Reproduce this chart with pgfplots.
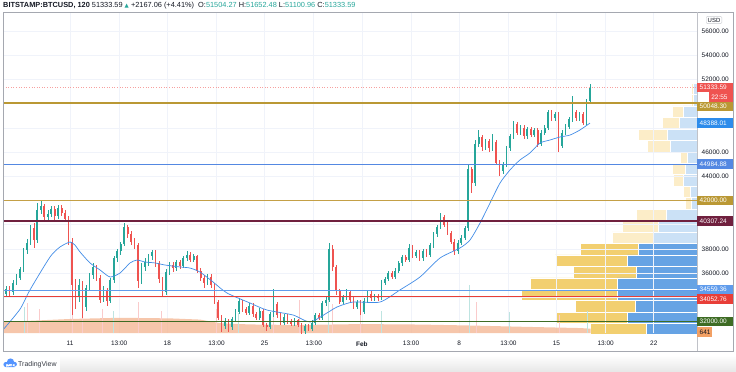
\documentclass[border=0pt]{standalone}
\usepackage{pgfplots}
\usepackage{pgfplotstable}
\pgfplotsset{compat=1.18}
\usepackage{fontspec}
\setmainfont{Liberation Sans}
\newfontfamily\symfont{DejaVu Sans}
\definecolor{tvgreen}{RGB}{38,166,154}
\definecolor{tvred}{RGB}{239,83,80}
\definecolor{gridc}{RGB}{240,243,250}
\definecolor{framec}{RGB}{165,168,176}
\definecolor{txt}{RGB}{19,23,34}
\definecolor{mablue}{RGB}{66,140,230}
\definecolor{lgold}{RGB}{186,152,52}
\definecolor{lgold2}{RGB}{196,160,70}
\definecolor{lblue}{RGB}{84,136,226}
\definecolor{lblue2}{RGB}{96,156,236}
\definecolor{lmaroon}{RGB}{112,32,62}
\definecolor{lred}{RGB}{232,62,56}
\definecolor{lgreen}{RGB}{62,108,36}
\definecolor{pyel}{RGB}{242,207,112}
\definecolor{pblue}{RGB}{102,163,228}
\definecolor{pyelL}{RGB}{252,237,200}
\definecolor{pblueL}{RGB}{203,225,246}
\definecolor{volc}{RGB}{244,184,150}
\definecolor{volo}{RGB}{242,160,100}
\definecolor{logoc}{RGB}{41,121,255}
\definecolor{mablab}{RGB}{45,140,235}

% up (close >= open) candles: day from 11 Jan, open, high, low, close
\pgfplotstableread{
x o h l c
-4.85 34000 34600 33700 34300
-4.60 34300 34900 34000 34700
-4.10 34400 35400 34200 35200
-3.85 35200 35900 35000 35600
-3.60 35600 36500 35400 36300
-3.35 36300 38100 36100 37900
-3.10 37900 38800 37600 38500
-2.85 38500 40000 38300 39700
-2.35 38700 41800 38500 41200
-2.10 41200 42000 40900 41500
-1.60 40600 41200 40300 40900
-1.35 40900 41500 40600 41300
-0.85 40700 41600 40500 41400
0.65 34000 35500 33600 35000
1.15 33200 35000 32900 34800
1.40 34800 36000 34500 35800
1.65 35800 36800 35500 36500
2.40 33800 34900 33600 34600
2.90 33700 35600 33500 35400
3.15 35400 37400 35200 37200
3.40 37200 38000 36900 37800
3.65 37800 38600 37500 38400
3.90 38400 40100 38200 39800
5.15 35300 36800 35100 36500
5.40 36500 37200 36200 36900
5.65 36900 37600 36600 37400
5.90 37400 37900 37100 37700
6.90 34400 36300 34200 36100
7.15 36100 36900 35800 36700
7.65 36400 37100 36200 36900
8.15 36600 37400 36400 37200
8.40 37200 37800 37000 37500
8.90 37100 37600 36900 37400
9.90 35200 35900 35000 35700
11.15 31600 32300 31400 32000
11.65 31500 32400 31300 32200
11.90 32200 33000 32000 32800
12.15 32800 33900 32600 33700
12.90 32700 33500 32500 33300
13.65 32300 33100 32100 32900
14.40 31500 32800 31400 32600
14.65 32600 34700 32400 33400
15.40 31900 32600 31700 32400
16.15 31800 32300 31600 32100
16.90 31200 31800 31000 31600
17.40 31400 32100 31200 31900
17.65 31900 32700 31700 32500
18.15 32300 33700 32100 33500
18.40 33500 34000 33300 33800
18.65 33800 38500 33600 38000
19.65 33600 34200 33400 34000
19.90 34000 34700 33800 34400
20.65 33200 33800 33000 33600
21.15 32800 33900 32600 33700
21.40 33700 34600 33500 34300
21.90 33900 34300 33700 34100
22.40 33900 35400 33800 35200
22.65 35200 35700 35000 35500
22.90 35500 36200 35300 36000
23.40 35700 36400 35500 36200
23.65 36200 37000 36000 36800
23.90 36800 37500 36600 37300
24.40 37100 38400 36900 38100
24.90 37400 37900 37200 37700
25.40 37200 38000 37000 37800
25.90 37500 38500 37300 38300
26.15 38300 39400 38100 39200
26.40 39200 40000 39000 39800
26.65 39800 41000 39600 40600
27.90 37800 38700 37600 38500
28.15 38500 39100 38300 38900
28.40 38900 39900 38700 39700
28.65 39700 45000 39500 44600
29.15 43400 47000 43200 46700
29.40 46700 47800 46400 47200
29.90 46400 47100 46200 46900
30.40 46300 47500 46100 46800
31.15 44400 45200 44200 45000
31.40 45000 46500 44800 46300
31.65 46300 47500 46100 47300
31.90 47300 48600 47100 48300
32.40 47600 48200 47400 48000
32.90 47300 48100 47100 47900
33.40 47400 48000 47200 47800
33.90 46700 47800 46500 47600
34.15 47600 48200 47400 48000
34.40 48000 49500 47800 49300
34.90 48800 49300 48600 49100
35.40 46500 47800 46300 47600
35.65 47600 48300 47400 48100
35.90 48100 48900 47900 48700
36.15 48700 50600 48500 49300
36.65 48800 49300 48600 49100
37.15 48400 50400 48200 50200
37.40 50200 51650 50000 51330
}\upc

% down candles
\pgfplotstableread{
x o h l c
-4.35 34700 34900 34100 34400
-2.60 39700 40100 38100 38700
-1.85 41500 41700 40300 40600
-1.10 41300 41500 40400 40700
-0.60 41400 41600 40700 41000
-0.35 41000 41200 40200 40500
-0.10 40500 40700 38300 38600
0.15 38600 38900 32500 35000
0.40 35000 35500 33000 34000
0.90 35000 35300 32300 33200
1.90 36500 36700 35300 35600
2.15 35600 35800 33500 33800
2.65 34600 34800 33300 33700
4.15 39800 40000 38900 39200
4.40 39200 39500 38300 38600
4.65 38600 38900 38000 38300
4.90 38300 38500 34800 35300
6.15 37700 37900 36500 36800
6.40 36800 37000 35200 35500
6.65 35500 35700 34000 34400
7.40 36700 36900 36100 36400
7.90 36900 37100 36300 36600
8.65 37500 37700 36900 37100
9.15 37400 37500 36000 36200
9.40 36200 36400 35300 35600
9.65 35600 35800 34800 35200
10.15 35700 35900 34800 35000
10.40 35000 35200 33400 33600
10.65 33600 33800 32100 32300
10.90 32300 32500 31100 31600
11.40 32000 32200 31100 31500
12.40 33700 33800 32800 33000
12.65 33000 33200 32500 32700
13.15 33300 33500 32400 32600
13.40 32600 32800 32100 32300
13.90 32900 33000 31500 31700
14.15 31700 31900 31200 31500
14.90 33400 33600 32300 32500
15.15 32500 32700 31700 31900
15.65 32400 32600 31800 32000
15.90 32000 32200 31600 31800
16.40 32100 32200 31500 31700
16.65 31700 31900 30900 31200
17.15 31600 31800 31200 31400
17.90 32500 32700 32100 32300
18.90 38000 38300 36200 36500
19.15 36500 36700 34200 34500
19.40 34500 34700 33400 33600
20.15 34400 34600 33600 33800
20.40 33800 34000 33000 33200
20.90 33600 33800 32500 32800
21.65 34300 34500 33700 33900
22.15 34100 34300 33700 33900
23.15 36000 36200 35500 35700
24.15 37300 37500 36900 37100
24.65 38100 38300 37200 37400
25.15 37700 37900 37000 37200
25.65 37800 38000 37300 37500
26.90 40600 40800 39800 40000
27.15 40000 40200 39100 39300
27.40 39300 39500 38400 38600
27.65 38600 38800 37500 37800
28.90 44600 44800 42600 43400
29.65 47200 47400 46100 46400
30.15 46900 47100 46000 46300
30.65 46800 47000 44900 45100
30.90 45100 45300 44000 44400
32.15 48300 48500 47400 47600
32.65 48000 48200 47100 47300
33.15 47900 48100 47200 47400
33.65 47800 48000 46400 46700
34.65 49300 49500 48600 48800
35.15 49100 49300 46000 46500
36.40 49300 49500 48600 48800
36.90 49100 49300 48200 48400
}\dnc

% volume profile rows: price centre, total length, down-part length
\pgfplotstableread{
p tot blu
31349 107 51
32295 142 70
33241 122 62
34188 176 80
35134 167 80
36080 124 61
37027 142 70
37973 117 59
}\profD
\pgfplotstableread{
p tot blu
38920 85 44
39866 75 39
40812 61 31
41759 12 6
42705 14 7
43651 24 14
44597 25 12
45544 17 10
46490 50 27
47437 59 30
48383 35 18
49329 25 14
50276 6 4
51222 6 4
}\profL

\tikzset{plab/.style={anchor=west, inner xsep=2.5bp, inner ysep=0pt, minimum height=9.6bp,
  text width=31bp, align=left, font=\fontsize{6.5}{7}\selectfont, text=white, fill=#1}}

\begin{document}
\begin{tikzpicture}[x=1bp,y=1bp]
\path[use as bounding box] (0,0) rectangle (736,371);
\shade[top color=white, bottom color=black!9] (60,0) rectangle (736,16);

% volume profile (drawn from the right edge)
\begin{axis}[at={(3bp,38bp)}, anchor=south west, scale only axis, width=694bp, height=320bp,
  x dir=reverse, xmin=0, xmax=694, ymin=31041, ymax=57488, hide axis]
\addplot[xbar, bar shift=0pt, bar width=946, fill=pyel, draw=white, line width=0.5bp] table[x=tot, y=p]{\profD};
\addplot[xbar, bar shift=0pt, bar width=946, fill=pblue, draw=white, line width=0.5bp] table[x=blu, y=p]{\profD};
\addplot[xbar, bar shift=0pt, bar width=946, fill=pyelL, draw=white, line width=0.5bp] table[x=tot, y=p]{\profL};
\addplot[xbar, bar shift=0pt, bar width=946, fill=pblueL, draw=white, line width=0.5bp] table[x=blu, y=p]{\profL};
\end{axis}

\begin{axis}[at={(3bp,38bp)}, anchor=south west, scale only axis, width=694bp, height=320bp,
  xmin=-4.82, xmax=45.11, ymin=31041, ymax=57488,
  axis line style={draw=none},
  xtick={0,3.54,7,10.54,14,17.54,21,24.54,28,31.54,35,38.54,42},
  xticklabels={11,13:00,18,13:00,25,13:00,\textbf{Feb},13:00,8,13:00,15,13:00,22},
  ytick={32000,34000,...,56000},
  yticklabels={,,36000.00,38000.00,,,44000.00,46000.00,,,52000.00,54000.00,56000.00},
  scaled y ticks=false, scaled x ticks=false,
  yticklabel pos=right,
  tick label style={font=\fontsize{6.5}{7}\selectfont, text=txt},
  y tick label style={xshift=1.2bp},
  x tick label style={yshift=-4.8bp},
  major tick length=0pt,
  grid=major, major grid style={draw=gridc, line width=0.6bp},
]
% volume backdrop
\addplot[fill=volc, fill opacity=0.8, draw=none] coordinates {
(-4.82,31950) (0,32200) (3.6,32300) (7.2,32250) (9.35,32150) (10.8,31850) (12.9,31750)
(16.5,31700) (20.9,31780) (25.2,31740) (28.8,31660) (32.4,31560) (36.7,31450) (37.45,31400)
(37.45,31041) (-4.82,31041)};
\addplot[ycomb, draw=tvred!30, line width=0.5bp] coordinates {
(-3.1,33500) (-2.2,33000) (0.15,34800) (0.9,33300) (2.3,33000) (4.9,33600) (6.6,32900)
(10.5,33000) (14.6,32800) (16.5,33800) (18.9,33400) (20.9,32800) (29.2,33600) (35.2,32500)};
\addplot[ycomb, draw=tvgreen!30, line width=0.5bp] coordinates {
(-3.3,33200) (3.1,32900) (12.1,32700) (18.6,34000) (22.4,32900) (28.7,35000) (31.6,32800) (37.2,32900)};
% candles
\addplot[draw=none, mark=none, error bars/.cd, y dir=both, y explicit, error mark=none,
  error bar style={draw=tvgreen, line width=0.5bp}]
  table[x=x, y expr={(\thisrow{h}+\thisrow{l})/2}, y error expr={(\thisrow{h}-\thisrow{l})/2}]{\upc};
\addplot[draw=none, mark=none, error bars/.cd, y dir=both, y explicit, error mark=none,
  error bar style={draw=tvgreen, line width=1.7bp}]
  table[x=x, y expr={(\thisrow{o}+\thisrow{c})/2}, y error expr={abs(\thisrow{c}-\thisrow{o})/2}]{\upc};
\addplot[draw=none, mark=none, error bars/.cd, y dir=both, y explicit, error mark=none,
  error bar style={draw=tvred, line width=0.5bp}]
  table[x=x, y expr={(\thisrow{h}+\thisrow{l})/2}, y error expr={(\thisrow{h}-\thisrow{l})/2}]{\dnc};
\addplot[draw=none, mark=none, error bars/.cd, y dir=both, y explicit, error mark=none,
  error bar style={draw=tvred, line width=1.7bp}]
  table[x=x, y expr={(\thisrow{o}+\thisrow{c})/2}, y error expr={abs(\thisrow{c}-\thisrow{o})/2}]{\dnc};
% moving average
\addplot[mablue, line width=0.7bp, smooth, tension=0.4] coordinates {
(-4.82,31300) (-3.6,33000) (-2.88,34600) (-1.44,37320) (-0.72,38150) (0,38560) (0.36,38300)
(0.72,37740) (1.44,36830) (2.16,36250) (2.88,35670) (3.6,36000) (4.32,36830) (4.82,37070)
(5.4,36910) (6.12,36830) (6.83,36660) (7.91,36500) (8.63,36410) (9.35,36080) (10.29,35260)
(11.29,34350) (12.95,33520) (14.17,32940) (16.04,32530) (17.27,31950) (18.49,32700)
(19.21,33190) (20.36,33600) (22.3,33600) (23.74,34600) (25.18,35670) (26.62,37240)
(28.06,38070) (28.78,38730) (29.5,40130) (30.22,41790) (30.94,43440) (31.65,44510)
(32.37,45340) (33.09,45920) (33.81,46740) (34.53,46990) (35.25,47240) (35.97,47400)
(36.69,47820) (37.41,48390)};
% horizontal levels
\addplot[tvred!55, dotted, line width=0.6bp] coordinates {(-4.82,51333.59) (45.11,51333.59)};
\addplot[lgold, line width=1.3bp] coordinates {(-4.82,50048.30) (45.11,50048.30)};
\addplot[lblue, line width=0.9bp] coordinates {(-4.82,44984.88) (45.11,44984.88)};
\addplot[lgold2, line width=0.9bp] coordinates {(-4.82,42000) (45.11,42000)};
\addplot[lmaroon, line width=1.3bp] coordinates {(-4.82,40307.24) (45.11,40307.24)};
\addplot[lblue2, line width=0.9bp] coordinates {(-4.82,34559.36) (45.11,34559.36)};
\addplot[lred, line width=1.3bp] coordinates {(-4.82,34052.76) (45.11,34052.76)};
\addplot[lgreen, line width=0.9bp] coordinates {(-4.82,32000) (45.11,32000)};
\coordinate (Lcur) at (axis cs:45.11,51333.59);
\coordinate (Lgold) at (axis cs:45.11,50048.30);
\coordinate (Lma) at (axis cs:45.11,48388.01);
\coordinate (Lb1) at (axis cs:45.11,44984.88);
\coordinate (Lg2) at (axis cs:45.11,42000);
\coordinate (Lm) at (axis cs:45.11,40307.24);
\coordinate (Lb2) at (axis cs:45.11,34559.36);
\coordinate (Lr) at (axis cs:45.11,34052.76);
\coordinate (Lgr) at (axis cs:45.11,32000);
\coordinate (Lv) at (axis cs:45.11,31124);
\end{axis}

% frame
\draw[framec, line width=0.7bp] (3,20) rectangle (733,359);
\draw[framec!70, line width=0.6bp] (697,20) -- (697,359);

% price labels
\node[plab=tvred] at (Lcur) {51333.59};
\node[plab=tvred, text width=19bp, anchor=east] at ([xshift=36bp,yshift=-9.6bp]Lcur) {22:55};
\node[plab=lgold] at ([yshift=-3.6bp]Lgold) {50048.30};
\node[plab=mablab] at (Lma) {48388.01};
\node[plab=lblue] at (Lb1) {44984.88};
\node[plab=lgold] at (Lg2) {42000.00};
\node[plab=lmaroon] at (Lm) {40307.24};
\node[plab=lblue2] at ([yshift=1bp]Lb2) {34559.36};
\node[plab=lred] at ([yshift=-2.6bp]Lr) {34052.76};
\node[plab=lgreen] at (Lgr) {32000.00};
\node[plab=volo, text width=10bp, text=txt] at (Lv) {641};
\node[draw=framec!60, fill=white, rounded corners=1bp, inner sep=1.5bp, font=\fontsize{6}{7}\selectfont, text=txt] at (714,351) {USD};

% header
\node[anchor=base west, inner sep=0, font=\fontsize{7.4}{8}\selectfont, text=txt] at (3,364)
 {\textbf{BITSTAMP:BTCUSD, 120}\ 51333.59 \textcolor{tvgreen}{\symfont\fontsize{5.5}{6}\selectfont ▲} +2167.06 (+4.41\%)\ \ O:\textcolor{tvgreen}{51504.27}\ H:\textcolor{tvgreen}{51652.48}\ L:\textcolor{tvgreen}{51100.96}\ C:\textcolor{tvgreen}{51333.59}};

% logo
\fill[logoc!80] (6,6.5) circle (2.6) (10.5,9) circle (3.6) (14.5,6.8) circle (2.4) (6,3.9) rectangle (14.5,7);
\fill[white] (7.5,5.2) rectangle (9.8,6) (8.3,4.3) rectangle (9,6) (10,6) -- (11,4.3) -- (12,6) -- (11.6,6) -- (11,5) -- (10.4,6) -- cycle;
\node[anchor=west, inner sep=0, font=\fontsize{7}{8}\selectfont, text=txt!85] at (18,6.5) {TradingView};
\end{tikzpicture}
\end{document}
